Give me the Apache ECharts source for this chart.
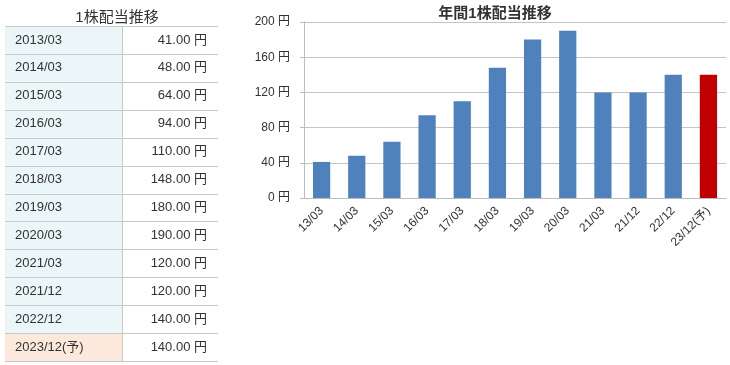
<!DOCTYPE html>
<html><head><meta charset="utf-8">
<script src="https://cdn.jsdelivr.net/npm/echarts@6/dist/echarts.min.js"></script>
<style>html,body{margin:0;padding:0;background:#fff}#c{width:730px;height:365px}</style>
</head><body><div id="c"></div>
<script>
// ---- data ----
var tableLabels = ['2013/03','2014/03','2015/03','2016/03','2017/03','2018/03','2019/03','2020/03','2021/03','2021/12','2022/12','2023/12(予)'];
var categories = ['13/03','14/03','15/03','16/03','17/03','18/03','19/03','20/03','21/03','21/12','22/12','23/12(予)'];
var dividends = [41, 48, 64, 94, 110, 148, 180, 190, 120, 120, 140, 140];
var forecastFlags = [0,0,0,0,0,0,0,0,0,0,0,1];
var yTicks = [0, 40, 80, 120, 160, 200];
var tableTitle = '1株配当推移';
var chartTitle = '年間1株配当推移';
var unit = '円';

var FONT = '"Liberation Sans", Arial, "Noto Sans CJK JP", sans-serif';
var BLUE = '#4f81bd', RED = '#c00000';

var tableData = tableLabels.map(function (l, i) { return [0, i, l, dividends[i], forecastFlags[i]]; });

var chart = echarts.init(document.getElementById('c'), null, {renderer: 'canvas'});
chart.setOption({
  animation: false,
  textStyle: {fontFamily: FONT},
  title: [
    {text: tableTitle, left: 112, top: 5, textAlign: 'center',
     textStyle: {fontSize: 15, fontWeight: 'normal', color: '#333', fontFamily: FONT}},
    {text: chartTitle, left: 490, top: 1, textAlign: 'center',
     textStyle: {fontSize: 15, fontWeight: 'bold', color: '#333', fontFamily: FONT}}
  ],
  grid: [
    {left: 5, top: 26, width: 213, height: 335},
    {left: 304, right: 4, top: 22, bottom: 167}
  ],
  xAxis: [
    {gridIndex: 0, type: 'value', min: 0, max: 1, show: false},
    {gridIndex: 1, type: 'category', data: categories,
     axisLine: {lineStyle: {color: '#bdbdbd'}},
     axisTick: {inside: true, length: 7, lineStyle: {color: '#bdbdbd'}},
     axisLabel: {rotate: 45, fontSize: 12, color: '#333', margin: 11, interval: 0, fontFamily: FONT}}
  ],
  yAxis: [
    {gridIndex: 0, type: 'category', data: tableLabels, inverse: true, show: false},
    {gridIndex: 1, type: 'value', min: yTicks[0], max: yTicks[yTicks.length-1], interval: yTicks[1]-yTicks[0],
     axisLine: {show: true, lineStyle: {color: '#bdbdbd'}},
     axisTick: {show: true, length: 4, lineStyle: {color: '#bdbdbd'}},
     axisLabel: {formatter: '{value} ' + unit, fontSize: 12, color: '#333', margin: 14, fontFamily: FONT},
     splitLine: {lineStyle: {color: '#c4c4c4'}}}
  ],
  series: [
    {
      type: 'custom', xAxisIndex: 0, yAxisIndex: 0, data: tableData,
      encode: {x: 0, y: 1},
      renderItem: function (params, api) {
        var cs = params.coordSys;
        var idx = api.value(1);
        var c = api.coord([0, idx]);
        var h = api.size([0, 1])[1];
        var top = c[1] - h / 2, bottom = c[1] + h / 2;
        var x0 = cs.x, x1 = cs.x + cs.width;
        var xs = cs.x + cs.width * 0.55;
        var forecast = api.value(4) === 1;
        var label = tableLabels[idx];
        var val = dividends[idx].toFixed(2) + ' ' + unit;
        var lineStyle = {stroke: '#c8c8c8', lineWidth: 1};
        var children = [
          {type: 'rect', z2: 1, shape: {x: x0, y: top, width: xs - x0, height: h},
           style: {fill: forecast ? '#fde9db' : '#eaf6f8'}},
          {type: 'rect', z2: 1, shape: {x: xs, y: top, width: x1 - xs, height: h}, style: {fill: '#fff'}},
          {type: 'line', z2: 20, shape: {x1: x0, y1: Math.round(bottom) + 0.5, x2: x1, y2: Math.round(bottom) + 0.5}, style: lineStyle},
          {type: 'line', z2: 20, shape: {x1: Math.round(xs) + 0.5, y1: top, x2: Math.round(xs) + 0.5, y2: bottom}, style: lineStyle},
          {type: 'text', z2: 30, x: x0 + 10, y: c[1],
           style: {text: label, fill: '#333', fontSize: 13, fontFamily: FONT, verticalAlign: 'middle', align: 'left'}},
          {type: 'text', z2: 30, x: x1 - 11, y: c[1],
           style: {text: val, fill: '#333', fontSize: 13, fontFamily: FONT, verticalAlign: 'middle', align: 'right'}}
        ];
        if (idx === 0) {
          children.push({type: 'line', z2: 20, shape: {x1: x0, y1: Math.round(top) + 0.5, x2: x1, y2: Math.round(top) + 0.5}, style: lineStyle});
        }
        return {type: 'group', children: children};
      }
    },
    {
      type: 'bar', xAxisIndex: 1, yAxisIndex: 1, barWidth: '49%',
      data: dividends.map(function (v, i) {
        return {value: v, itemStyle: {color: forecastFlags[i] ? RED : BLUE}};
      })
    }
  ]
});
</script></body></html>
